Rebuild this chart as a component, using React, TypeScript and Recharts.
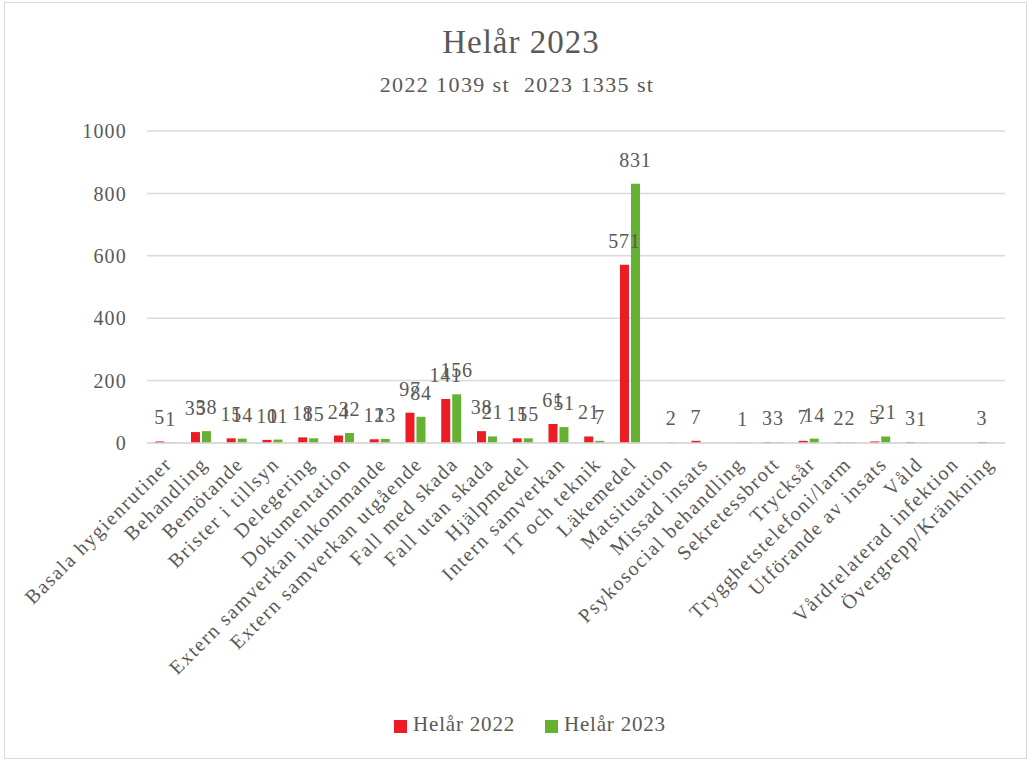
import React from 'react';
import { BarChart, Bar, XAxis, YAxis, CartesianGrid, Legend, LabelList } from 'recharts';

const categories = [
  'Basala hygienrutiner',
  'Behandling',
  'Bemötande',
  'Brister i tillsyn',
  'Delegering',
  'Dokumentation',
  'Extern samverkan inkommande',
  'Extern samverkan utgående',
  'Fall med skada',
  'Fall utan skada',
  'Hjälpmedel',
  'Intern samverkan',
  'IT och teknik',
  'Läkemedel',
  'Matsituation',
  'Missad insats',
  'Psykosocial behandling',
  'Sekretessbrott',
  'Trycksår',
  'Trygghetstelefoni/larm',
  'Utförande av insats',
  'Våld',
  'Vårdrelaterad infektion',
  'Övergrepp/Kränkning',
];

const values2022 = [5, 35, 15, 10, 18, 24, 12, 97, 141, 38, 15, 61, 21, 571, null, 7, null, 3, 7, 2, 5, 3, null, 3];
const values2023 = [1, 38, 14, 11, 15, 32, 13, 84, 156, 21, 15, 51, 7, 831, 2, null, 1, 3, 14, 2, 21, 1, null, null];

const yTicks = [0, 200, 400, 600, 800, 1000];

const data = categories.map((name, i) => ({ name, y2022: values2022[i], y2023: values2023[i] }));

const FONT = '"Liberation Serif", serif';
const GRAY = '#595959';

const CategoryTick = (props: any) => {
  const { x, y, payload } = props;
  return (
    <g transform={`translate(${x + 4},${y + 10})`}>
      <text
        textAnchor="end"
        transform="rotate(-45)"
        fill={GRAY}
        fontSize={20}
        letterSpacing={1.6}
        fontFamily={FONT}
        dy={6}
      >
        {payload.value}
      </text>
    </g>
  );
};

const ValueLabel = (props: any) => {
  const { x, y, width, value } = props;
  if (value == null || value === 0) return null;
  return (
    <text x={x + width / 2} y={y - 17} textAnchor="middle" fill={GRAY} fontSize={20} fontFamily={FONT} letterSpacing={0.8}>
      {value}
    </text>
  );
};

export default function App() {
  return (
    <div style={{ position: 'absolute', left: 0, top: 0, width: 1030, height: 760, background: '#fff', fontFamily: FONT }}>
      <div style={{ position: 'absolute', left: 4, top: 2, width: 1021, height: 755, border: '1px solid #d9d9d9' }} />
      <div style={{ position: 'absolute', left: 6, top: 24, width: 1030, textAlign: 'center', fontSize: 33, color: GRAY, letterSpacing: 1 }}>
        Helår 2023
      </div>
      <div style={{ position: 'absolute', left: 2, top: 72, width: 1030, textAlign: 'center', fontSize: 22, color: GRAY, letterSpacing: 1.4, whiteSpace: 'pre' }}>
        {'2022 1039 st  2023 1335 st'}
      </div>
      <div style={{ position: 'absolute', left: 0, top: 0 }}>
        <BarChart
          width={1030}
          height={760}
          data={data}
          margin={{ top: 131, right: 25, bottom: 0, left: 87 }}
          barCategoryGap="23%"
          barGap={2}
        >
          <CartesianGrid vertical={false} stroke="#d9d9d9" strokeWidth={1.5} />
          <XAxis
            dataKey="name"
            interval={0}
            height={292}
            tick={<CategoryTick />}
            tickLine={false}
            axisLine={{ stroke: '#d9d9d9', strokeWidth: 1.5 }}
          />
          <YAxis
            width={60}
            domain={[0, 1000]}
            ticks={yTicks}
            tickLine={false}
            axisLine={false}
            tickMargin={14}
            tick={{ fill: GRAY, fontSize: 20, fontFamily: FONT, letterSpacing: 1.2 }}
          />
          <Legend
            verticalAlign="bottom"
            align="center"
            iconType="square"
            iconSize={13}
            wrapperStyle={{ top: 712, left: 30, width: 1030, fontSize: 21, fontFamily: FONT, letterSpacing: 0.8 }}
            formatter={(v: string) => <span style={{ color: GRAY, marginRight: 20, marginLeft: 2 }}>{v}</span>}
          />
          <Bar dataKey="y2022" name="Helår 2022" fill="#ED1C24" isAnimationActive={false}>
            <LabelList dataKey="y2022" content={<ValueLabel />} />
          </Bar>
          <Bar dataKey="y2023" name="Helår 2023" fill="#66B132" isAnimationActive={false}>
            <LabelList dataKey="y2023" content={<ValueLabel />} />
          </Bar>
        </BarChart>
      </div>
    </div>
  );
}
